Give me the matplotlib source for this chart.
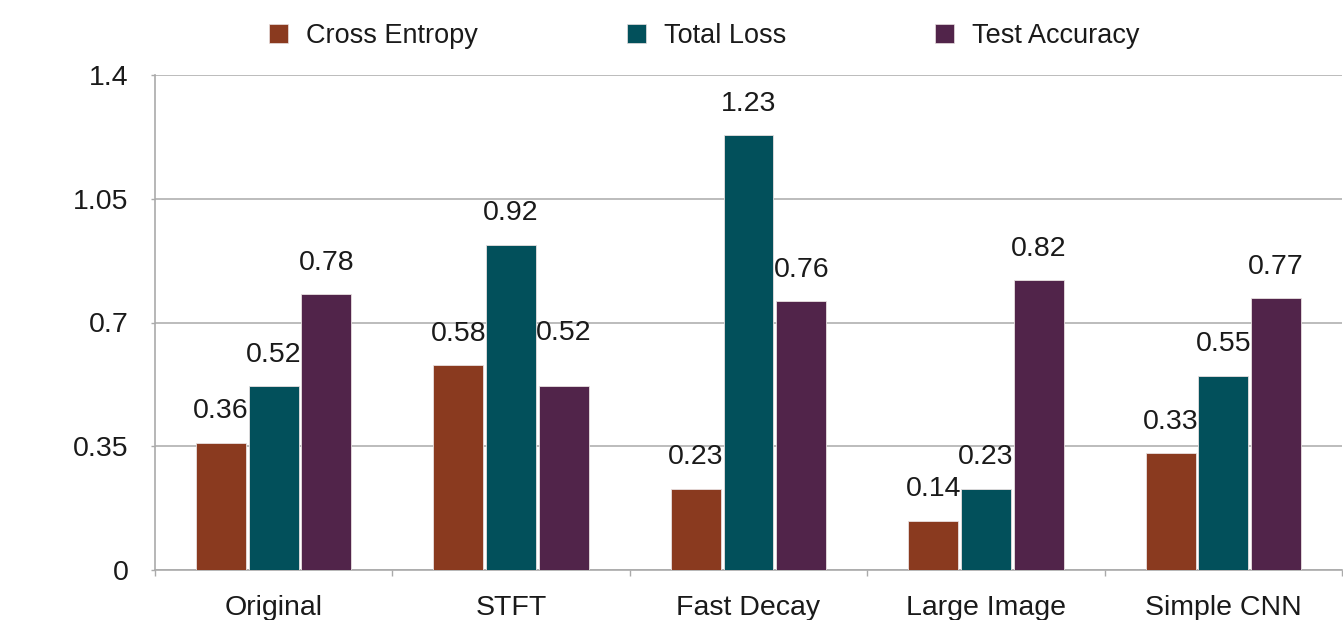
import matplotlib
matplotlib.use("Agg")
import matplotlib.pyplot as plt
import numpy as np
from matplotlib.patches import Patch

categories = ["Original", "STFT", "Fast Decay", "Large Image", "Simple CNN"]
cross_entropy = [0.36, 0.58, 0.23, 0.14, 0.33]
total_loss = [0.52, 0.92, 1.23, 0.23, 0.55]
test_accuracy = [0.78, 0.52, 0.76, 0.82, 0.77]
series_names = ["Cross Entropy", "Total Loss", "Test Accuracy"]
yticks = [0, 0.35, 0.7, 1.05, 1.4]
ytick_labels = ["0", "0.35", "0.7", "1.05", "1.4"]

colors = ["#8A3A1F", "#02505B", "#51244A"]
plt.rcParams['font.family'] = ['Liberation Sans', 'DejaVu Sans']
FS = 20.5
LEG_FS = 19.5
TXT = "#1a1a1a"

# value-label offset (points above bar top); a few labels sit higher in the original
label_offset = 22.5
label_offset_override = {(2, 1): 38}  # (series index, category index)

fig = plt.figure(figsize=(13.43, 6.2), dpi=100)
ax = fig.add_axes([155/1343, 1-570/620, (1342-155)/1343, (570-75)/620])

x = np.arange(len(categories))
width = 0.21
step = 0.222
series = [cross_entropy, total_loss, test_accuracy]
for i, (vals, name, c) in enumerate(zip(series, series_names, colors)):
    pos = x + (i - 1) * step
    bars = ax.bar(pos, vals, width, color=c, edgecolor="#e8e0e0", linewidth=0.6, zorder=3, label=name)
    for j, (b, v) in enumerate(zip(bars, vals)):
        off = label_offset_override.get((i, j), label_offset)
        ax.annotate(f"{v:.2f}", (b.get_x() + b.get_width()/2, v), xytext=(0, off),
                    textcoords="offset points", ha="center", va="center", fontsize=FS, color=TXT)

ax.set_xlim(-0.5, len(categories) - 0.5)
ax.set_ylim(0, 1.4)
ax.set_yticks(yticks)
ax.set_yticklabels(ytick_labels, fontsize=FS, color=TXT)
ax.set_xticks(x)
ax.set_xticklabels(categories, fontsize=FS, color=TXT)
ax.set_xticks(np.arange(-0.5, len(categories), 1.0), minor=True)
ax.tick_params(axis="x", which="major", length=0, pad=18)
ax.tick_params(axis="x", which="minor", length=4, color="#aaaaaa", width=1.0)
ax.tick_params(axis="y", which="major", length=3, color="#aaaaaa", width=1.0, pad=16)
ax.yaxis.grid(True, color="#b0b0b0", linewidth=1.2, zorder=0)
ax.set_axisbelow(True)
for s in ["top", "right"]:
    ax.spines[s].set_visible(False)
for s in ["left", "bottom"]:
    ax.spines[s].set_color("#aaaaaa")
    ax.spines[s].set_linewidth(1.2)

handles = [Patch(facecolor=c, edgecolor="#e8e0e0", linewidth=0.5) for c in colors]
fig.legend(handles, series_names, loc="center", bbox_to_anchor=(704/1343, 1-36/620), ncol=3,
           frameon=False, fontsize=LEG_FS, handlelength=0.72, handleheight=0.72, handletextpad=0.65,
           columnspacing=5.5, labelcolor=TXT, borderpad=0.2)

fig.savefig("out.png", dpi=100)
